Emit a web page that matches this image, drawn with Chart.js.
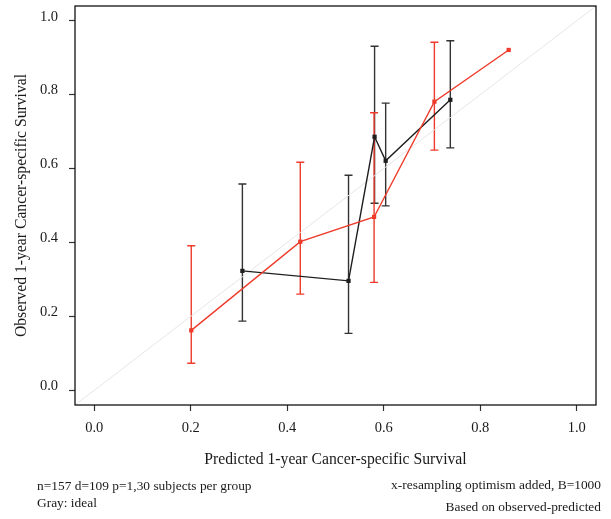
<!DOCTYPE html>
<html><head><meta charset="utf-8">
<script src="https://cdn.jsdelivr.net/npm/chart.js@4/dist/chart.umd.min.js"></script>
<style>
html,body{margin:0;padding:0;background:#fff;}
#wrap{position:relative;width:611px;height:519px;}
.note{position:absolute;font-family:"Liberation Serif",serif;font-size:13.4px;line-height:14px;color:#1a1a1a;white-space:nowrap;}
</style>
</head><body>
<div id="wrap">
<canvas id="c" width="611" height="519"></canvas>
<div class="note" style="left:37px;top:479px">n=157 d=109 p=1,30 subjects per group</div>
<div class="note" style="left:37px;top:496px">Gray: ideal</div>
<div class="note" style="right:10px;top:478px">x-resampling optimism added, B=1000</div>
<div class="note" style="right:10px;top:500px">Based on observed-predicted</div>
</div>
<script>
// ---- data ----
const tickValues = [0, 0.2, 0.4, 0.6, 0.8, 1.0];
const tickLabels = ["0.0", "0.2", "0.4", "0.6", "0.8", "1.0"];
const idealX = [-0.04, 1.04];
const idealY = [-0.04, 1.04];
const redX = [0.201, 0.427, 0.580, 0.705, 0.859];
const redY = [0.162, 0.402, 0.469, 0.781, 0.921];
const redLower = [0.073, 0.260, 0.292, 0.650, null];
const redUpper = [0.391, 0.617, 0.751, 0.942, null];
const blackX = [0.307, 0.527, 0.581, 0.604, 0.738];
const blackY = [0.323, 0.296, 0.686, 0.621, 0.786];
const blackLower = [0.187, 0.154, 0.506, 0.499, 0.656];
const blackUpper = [0.558, 0.582, 0.931, 0.777, 0.946];

const RED = '#ee3b2b', BLACK = '#1e1e1e';
const SERIF = '"Liberation Serif", "DejaVu Serif", serif';

function pts(xs, ys) { return xs.map((x, i) => ({x: x, y: ys[i]})); }

const errorBars = {
  id: 'errorBars',
  beforeDatasetsDraw(chart) {
    const {ctx, scales: {x, y}} = chart;
    const sets = [
      {xs: blackX, lo: blackLower, hi: blackUpper, col: '#333333'},
      {xs: redX, lo: redLower, hi: redUpper, col: RED}
    ];
    ctx.save();
    ctx.lineWidth = 1.4;
    sets.forEach(s => {
      ctx.strokeStyle = s.col;
      s.xs.forEach((xv, i) => {
        if (s.lo[i] == null) return;
        const px = x.getPixelForValue(xv);
        const p1 = y.getPixelForValue(s.lo[i]);
        const p2 = y.getPixelForValue(s.hi[i]);
        ctx.beginPath();
        ctx.moveTo(px, p1); ctx.lineTo(px, p2);
        ctx.moveTo(px - 4, p1); ctx.lineTo(px + 4, p1);
        ctx.moveTo(px - 4, p2); ctx.lineTo(px + 4, p2);
        ctx.stroke();
      });
    });
    ctx.restore();
  }
};

const frame = {
  id: 'frame',
  afterDraw(chart) {
    const {ctx, chartArea: a} = chart;
    ctx.save();
    ctx.strokeStyle = '#111';
    ctx.lineWidth = 1.3;
    ctx.strokeRect(a.left, a.top, a.right - a.left, a.bottom - a.top);
    ctx.restore();
  }
};

new Chart(document.getElementById('c'), {
  type: 'scatter',
  data: {
    datasets: [
      {data: pts(idealX, idealY), showLine: true, borderColor: '#e6e6e6', borderWidth: 1, pointRadius: 0, order: 3},
      {data: pts(blackX, blackY), showLine: true, borderColor: BLACK, backgroundColor: BLACK, borderWidth: 1.4,
       pointStyle: 'rect', pointRadius: 3, pointBorderWidth: 0, order: 2},
      {data: pts(redX, redY), showLine: true, borderColor: RED, backgroundColor: RED, borderWidth: 1.4,
       pointStyle: 'rect', pointRadius: 3, pointBorderWidth: 0, order: 1}
    ]
  },
  options: {
    responsive: false,
    animation: false,
    layout: {padding: {left: 0, right: 15, top: 6, bottom: 34}},
    plugins: {legend: {display: false}, tooltip: {enabled: false}},
    scales: {
      x: {
        type: 'linear', min: -0.04, max: 1.04,
        afterBuildTicks: s => { s.ticks = tickValues.map(v => ({value: v})); },
        afterFit: s => { s.height = 80; s.paddingLeft = 0; s.paddingRight = 0; },
        grid: {drawOnChartArea: false, drawTicks: true, tickLength: 6, color: '#333', tickWidth: 1.2},
        border: {display: false},
        ticks: {padding: 8, color: '#1a1a1a', font: {family: SERIF, size: 14.5},
                callback: (v) => tickLabels[tickValues.indexOf(v)] ?? ''},
        title: {display: true, text: 'Predicted 1-year Cancer-specific Survival', color: '#1a1a1a',
                font: {family: SERIF, size: 15.7}, padding: {top: 0, bottom: 16}}
      },
      y: {
        type: 'linear', min: -0.04, max: 1.04,
        afterBuildTicks: s => { s.ticks = tickValues.map(v => ({value: v})); },
        afterFit: s => { s.width = 75; s.paddingTop = 0; s.paddingBottom = 0; },
        grid: {drawOnChartArea: false, drawTicks: true, tickLength: 6, color: '#333', tickWidth: 1.2},
        border: {display: false},
        ticks: {padding: 11, labelOffset: -4, color: '#1a1a1a', font: {family: SERIF, size: 14.5},
                callback: (v) => tickLabels[tickValues.indexOf(v)] ?? ''},
        title: {display: true, text: 'Observed 1-year Cancer-specific Survival', color: '#1a1a1a',
                font: {family: SERIF, size: 15.7}, padding: {top: 12, bottom: 0}}
      }
    }
  },
  plugins: [errorBars, frame]
});
</script>
</body></html>
